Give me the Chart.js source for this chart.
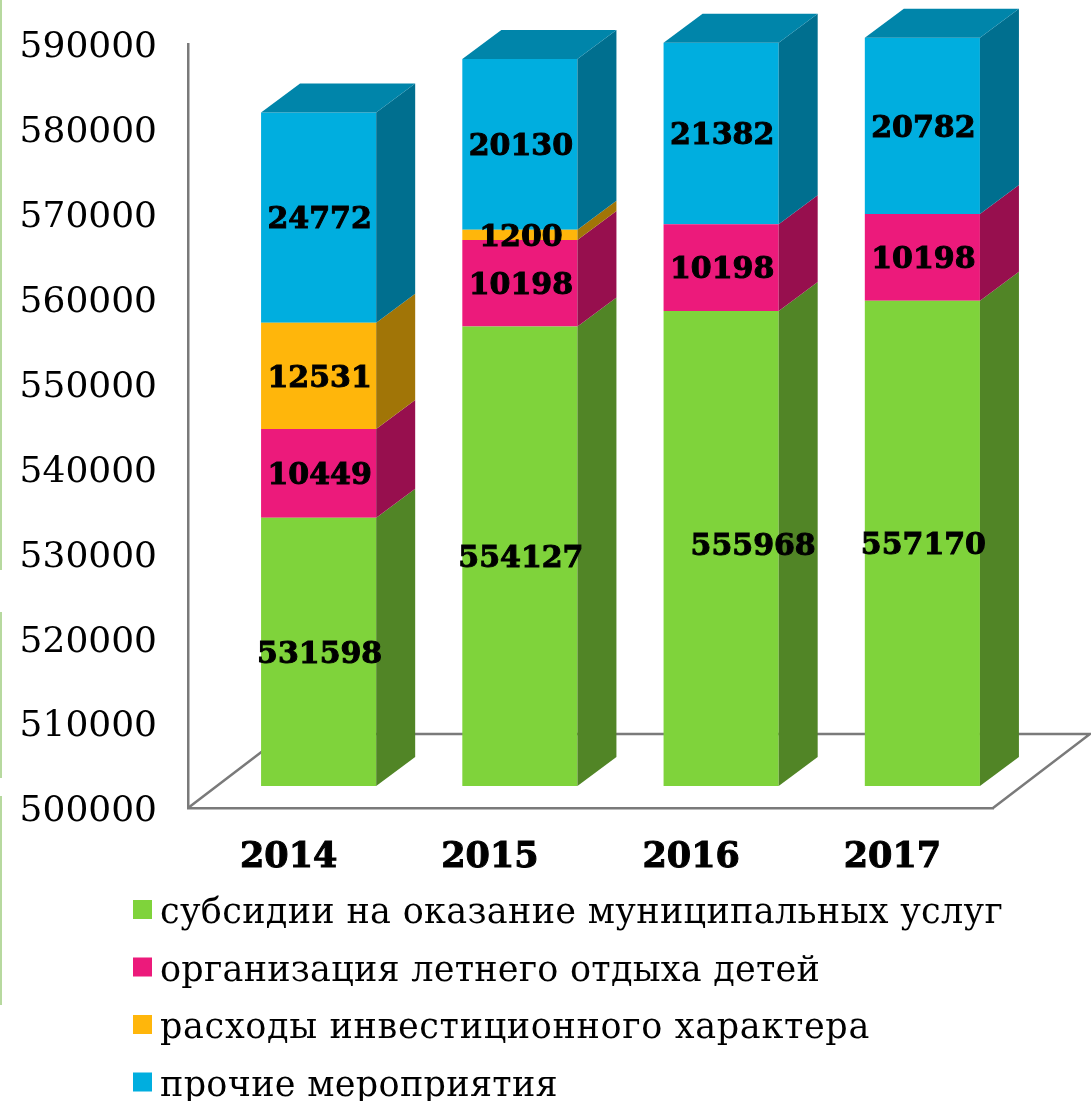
<!DOCTYPE html>
<html>
<head>
<meta charset="utf-8">
<script src="https://cdn.jsdelivr.net/npm/chart.js@4"></script>
<style>
  html, body { margin: 0; background: #fff; }
  canvas { display: block; }
</style>
</head>
<body>
<canvas id="budget" width="1091" height="1101"></canvas>
<script>
const years = ["2014", "2015", "2016", "2017"];
const seriesNames = [
  "субсидии на оказание муниципальных услуг",
  "организация летнего отдыха детей",
  "расходы инвестиционного характера",
  "прочие мероприятия",
];
const subsidies = [531598, 554127, 555968, 557170];
const summerCamp = [10449, 10198, 10198, 10198];
const investment = [12531, 1200, 0, 0];
const otherEvents = [24772, 20130, 21382, 20782];

const frontColors = ["#7FD33B", "#EC1A7B", "#FFB60B", "#00AEDF"];
const sideColors = ["#518526", "#970F4E", "#A17507", "#006F8F"];
const topColor = "#0085AA";
const lineColor = "#7A7A7A";
const textFont = "'DejaVu Serif'";

// bars stand inside the 3d floor, not on its front edge
const shiftX = 30, shiftY = -22;
const depthX = 39, depthY = -29;
const floorX = 97, floorY = -74;
// width each legend row takes up in the original font
const legendWidths = [843, 660, 710, 398];

const box3d = {
  id: "box3d",
  afterLayout(chart) {
    // digits sit above the font's middle line, push the y labels back onto their ticks
    const y = chart.scales.y;
    const drawLabels = y.drawLabels;
    y.drawLabels = function (area) {
      chart.ctx.save();
      chart.ctx.translate(0, 4);
      drawLabels.call(this, area);
      chart.ctx.restore();
    };
  },
  beforeDatasetsDraw(chart) {
    const { ctx, chartArea: a } = chart;
    ctx.save();
    ctx.strokeStyle = lineColor;
    ctx.lineWidth = 2.5;
    ctx.beginPath();
    ctx.moveTo(a.left, a.bottom);
    ctx.lineTo(a.left + floorX, a.bottom + floorY);
    ctx.lineTo(a.right + floorX, a.bottom + floorY);
    ctx.lineTo(a.right, a.bottom);
    ctx.stroke();
    ctx.restore();
    ctx.save();
    ctx.translate(shiftX, shiftY);
  },
  afterDatasetsDraw(chart) {
    const { ctx } = chart;
    chart.data.datasets.forEach((ds, i) => {
      chart.getDatasetMeta(i).data.forEach((bar, j) => {
        if (!ds.data[j]) return;
        const right = bar.x + bar.width / 2;
        const left = bar.x - bar.width / 2;
        ctx.fillStyle = sideColors[i];
        ctx.beginPath();
        ctx.moveTo(right, bar.y);
        ctx.lineTo(right + depthX, bar.y + depthY);
        ctx.lineTo(right + depthX, bar.base + depthY);
        ctx.lineTo(right, bar.base);
        ctx.closePath();
        ctx.fill();
        if (i === chart.data.datasets.length - 1) {
          ctx.fillStyle = topColor;
          ctx.beginPath();
          ctx.moveTo(left, bar.y);
          ctx.lineTo(left + depthX, bar.y + depthY);
          ctx.lineTo(right + depthX, bar.y + depthY);
          ctx.lineTo(right, bar.y);
          ctx.closePath();
          ctx.fill();
        }
      });
    });
    // value labels
    ctx.fillStyle = "#000";
    ctx.strokeStyle = "#000";
    ctx.lineWidth = 1;
    ctx.font = "bold 30px " + textFont;
    ctx.textAlign = "center";
    ctx.textBaseline = "middle";
    chart.data.datasets.forEach((ds, i) => {
      chart.getDatasetMeta(i).data.forEach((bar, j) => {
        if (!ds.data[j]) return;
        const c = bar.getCenterPoint();
        // the 2016 subsidy label sits off to the right in the original
        const moved = i === 0 && j === 2;
        const lx = c.x + (moved ? 32 : 1);
        const ly = c.y + (moved ? -1 : 3);
        ctx.fillText(String(ds.data[j]), lx, ly);
        ctx.strokeText(String(ds.data[j]), lx, ly);
      });
    });
    ctx.restore();
  },
  afterDraw(chart) {
    const { ctx } = chart;
    ctx.save();
    // thin leftover stripe on the left edge of the slide
    ctx.fillStyle = "#B7D99F";
    ctx.fillRect(0, 0, 2, 570);
    ctx.fillRect(0, 612, 2, 166);
    ctx.fillRect(0, 796, 2, 209);
    // legend, one entry per row
    ctx.font = "35px " + textFont;
    ctx.textAlign = "left";
    ctx.textBaseline = "middle";
    seriesNames.forEach((name, i) => {
      const y = 910 + i * 57.5;
      ctx.fillStyle = frontColors[i];
      ctx.fillRect(133, y - 10, 19, 19);
      ctx.fillStyle = "#000";
      ctx.letterSpacing = "0px";
      const extra = (legendWidths[i] - ctx.measureText(name).width) / name.length;
      ctx.letterSpacing = extra.toFixed(2) + "px";
      ctx.fillText(name, 160, y + 4);
    });
    ctx.restore();
  },
};

new Chart(document.getElementById("budget"), {
  type: "bar",
  data: {
    labels: years,
    datasets: [
      { label: seriesNames[0], data: subsidies, backgroundColor: frontColors[0], base: 500000, clip: false },
      { label: seriesNames[1], data: summerCamp, backgroundColor: frontColors[1], clip: false },
      { label: seriesNames[2], data: investment, backgroundColor: frontColors[2], clip: false },
      { label: seriesNames[3], data: otherEvents, backgroundColor: frontColors[3], clip: false },
    ],
  },
  options: {
    responsive: false,
    animation: false,
    categoryPercentage: 1,
    barPercentage: 0.572,
    layout: { padding: { top: 44, right: 98, bottom: 220, left: 0 } },
    plugins: { legend: { display: false }, tooltip: { enabled: false } },
    scales: {
      x: {
        stacked: true,
        grid: { display: false, drawTicks: false },
        border: { color: lineColor, width: 2.5 },
        ticks: {
          color: "#000",
          padding: 29,
          textStrokeColor: "#000",
          textStrokeWidth: 1,
          font: { family: textFont, size: 35, weight: "bold" },
        },
        afterFit(scale) { scale.height = 73; },
      },
      y: {
        stacked: true,
        min: 500000,
        max: 590000,
        grid: { display: false, drawTicks: false },
        border: { color: lineColor, width: 2.5 },
        ticks: {
          stepSize: 10000,
          color: "#000",
          padding: 31,
          font: { family: textFont, size: 36 },
          callback: (v) => String(v),
        },
        afterFit(scale) {
          scale.width = 188;
          // otherwise half a label plus the tick padding pushes the plot top down
          scale.paddingTop = 0;
          scale.paddingBottom = 0;
        },
      },
    },
  },
  plugins: [box3d],
});
</script>
</body>
</html>
